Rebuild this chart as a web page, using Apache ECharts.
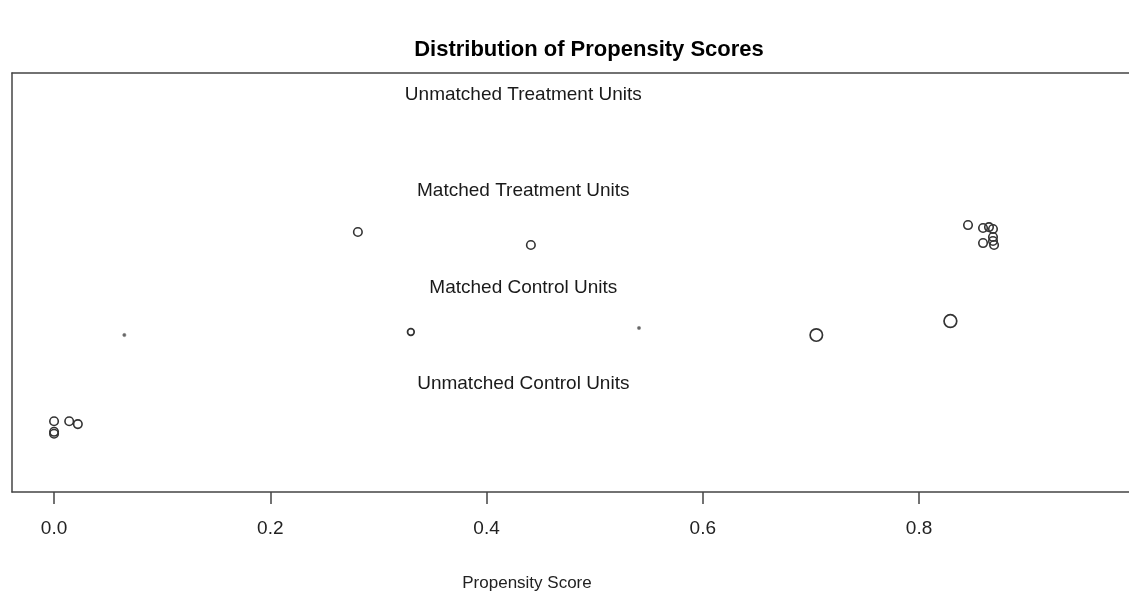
<!DOCTYPE html>
<html>
<head>
<meta charset="utf-8">
<script src="https://cdn.jsdelivr.net/npm/echarts@6/dist/echarts.min.js"></script>
<style>html,body{margin:0;padding:0;background:#fff;}#c{width:1129px;height:596px;}</style>
</head>
<body>
<div id="c"></div>
<script>
// Data
const tickValues = [0.0, 0.2, 0.4, 0.6, 0.8];
const groupLabels = ["Unmatched Treatment Units", "Matched Treatment Units", "Matched Control Units", "Unmatched Control Units"];
const groupLabelY = [4, 3, 2, 1];
const groupLabelX = 0.434;

const unmatchedControlX = [0, 0.014, 0.022, 0, 0];
const unmatchedControlY = [0.59, 0.59, 0.56, 0.48, 0.46];

const matchedControlX = [0.065, 0.330, 0.541, 0.705, 0.829];
const matchedControlY = [1.485, 1.516, 1.558, 1.485, 1.630];
const matchedControlWeights = [0.12, 0.55, 0.12, 1.9, 2.0];

const matchedTreatmentX = [0.281, 0.441, 0.8453, 0.8592, 0.8647, 0.8684, 0.8684, 0.8592, 0.8684, 0.8694];
const matchedTreatmentY = [2.555, 2.420, 2.627, 2.596, 2.606, 2.586, 2.503, 2.440, 2.461, 2.420];

const zip = (a, b) => a.map((v, i) => [v, b[i]]);
const FONT = 'Liberation Sans, Arial, sans-serif';
const INK = '#333333';

const ring = { color: 'rgba(255,255,255,0)', borderColor: INK, borderWidth: 1.6, opacity: 1 };

const chart = echarts.init(document.getElementById('c'), null, { renderer: 'canvas' });
chart.setOption({
  animation: false,
  backgroundColor: '#ffffff',
  title: [
    { text: 'Distribution of Propensity Scores', left: 584, top: 34, textAlign: 'center',
      textStyle: { fontFamily: FONT, fontWeight: 'bold', fontSize: 22, color: '#000' } },
    { text: 'Propensity Score', left: 522, top: 570, textAlign: 'center',
      textStyle: { fontFamily: FONT, fontWeight: 'normal', fontSize: 17, color: '#222' } }
  ],
  grid: { left: 12, top: 73, right: 0, height: 419, show: false },
  xAxis: [
    {
      type: 'value', min: -0.0389, max: 0.9942, position: 'bottom',
      axisLine: { show: true, onZero: false, lineStyle: { color: '#444', width: 1.5 } },
      splitLine: { show: false },
      axisTick: { show: true, customValues: tickValues, length: 12, inside: false, lineStyle: { color: '#444', width: 1.5 } },
      axisLabel: { show: true, customValues: tickValues, margin: 27, fontSize: 19, color: '#222',
        fontFamily: FONT, formatter: v => v.toFixed(1) }
    },
    {
      type: 'value', min: -0.0389, max: 0.9942, position: 'top',
      axisLine: { show: true, onZero: false, lineStyle: { color: '#444', width: 1.5 } },
      splitLine: { show: false }, axisTick: { show: false }, axisLabel: { show: false }
    }
  ],
  yAxis: {
    type: 'value', min: -0.145, max: 4.206, position: 'left',
    axisLine: { show: true, onZero: false, lineStyle: { color: '#444', width: 1.5 } },
    splitLine: { show: false }, axisTick: { show: false }, axisLabel: { show: false }
  },
  series: [
    {
      type: 'scatter', name: 'labels', silent: true,
      data: groupLabels.map((t, i) => ({ name: t, value: [groupLabelX, groupLabelY[i]] })),
      symbolSize: 0,
      itemStyle: { opacity: 1 },
      label: { show: true, position: 'inside', offset: [0, 2], formatter: p => p.name, fontSize: 19,
        color: '#1a1a1a', fontFamily: FONT, opacity: 1 }
    },
    {
      type: 'scatter', name: 'Unmatched Control',
      data: zip(unmatchedControlX, unmatchedControlY),
      symbol: 'circle', symbolSize: 8.5, itemStyle: ring
    },
    {
      type: 'scatter', name: 'Matched Control',
      data: zip(matchedControlX, matchedControlY).map((d, i) => {
        const w = matchedControlWeights[i];
        const tiny = w < 0.3;
        return {
          value: d,
          symbolSize: tiny ? 3.4 : 9 * Math.sqrt(w),
          itemStyle: tiny
            ? { color: '#666', borderColor: '#888', borderWidth: 0.5, opacity: 1 }
            : { color: 'rgba(255,255,255,0)', borderColor: INK, borderWidth: 1.7, opacity: 1 }
        };
      }),
      symbol: 'circle'
    },
    {
      type: 'scatter', name: 'Matched Treatment',
      data: zip(matchedTreatmentX, matchedTreatmentY),
      symbol: 'circle', symbolSize: 8.5, itemStyle: ring
    }
  ]
});
</script>
</body>
</html>
